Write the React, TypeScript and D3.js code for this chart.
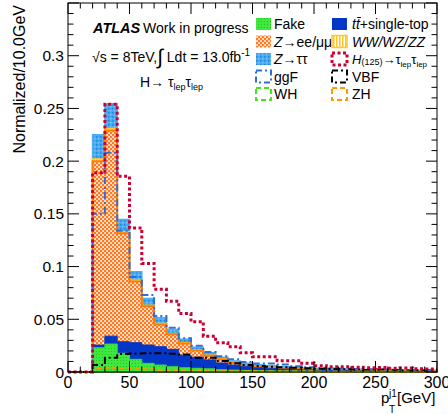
import React from 'react'
import * as d3 from 'd3'

// bin edges in GeV (10 GeV bins)
const edges = [0, 10, 20, 30, 40, 50, 60, 70, 80, 90, 100, 110, 120, 130, 140, 150, 160, 170, 180, 190, 200, 210, 220, 230, 240, 250, 260, 270, 280, 290, 300]

// backgrounds (normalized, per bin)
const fake = [0, 0, 0.023, 0.0265, 0.0177, 0.012, 0.0082, 0.0066, 0.005, 0.004, 0.0035, 0.003, 0.0022, 0.0018, 0.0015, 0.0012, 0.001, 0.0009, 0.0008, 0.0007, 0.0006, 0.0005, 0.0005, 0.0004, 0.0004, 0.0003, 0.0003, 0.0003, 0.0002, 0.0002]
const ttbar = [0, 0, 0.0025, 0.0075, 0.011, 0.0158, 0.0174, 0.0174, 0.0165, 0.012, 0.0105, 0.0085, 0.0063, 0.0048, 0.0035, 0.0028, 0.0022, 0.0018, 0.0015, 0.0012, 0.001, 0.0009, 0.0008, 0.0007, 0.0006, 0.0005, 0.0005, 0.0004, 0.0004, 0.0003]
const zll = [0, 0, 0.1745, 0.195, 0.1028, 0.058, 0.0368, 0.0211, 0.0143, 0.011, 0.0064, 0.0038, 0.0036, 0.002, 0.0008, 0.0009, 0.0008, 0.0007, 0.0006, 0.0006, 0.0005, 0.0005, 0.0004, 0.0004, 0.0003, 0.0003, 0.0003, 0.0003, 0.0002, 0.0002]
const diboson = [0, 0, 0.002, 0.002, 0.0015, 0.0012, 0.001, 0.0009, 0.0008, 0.0007, 0.0006, 0.0005, 0.0004, 0.0004, 0.0003, 0.0003, 0.0003, 0.0002, 0.0002, 0.0002, 0.0002, 0.0002, 0.0001, 0.0001, 0.0001, 0.0001, 0.0001, 0.0001, 0.0001, 0.0001]
const ztt = [0, 0, 0.023, 0.0234, 0.0116, 0.008, 0.0064, 0.0054, 0.0038, 0.0033, 0.0024, 0.0024, 0.0014, 0.0014, 0.0021, 0.0017, 0.0017, 0.0014, 0.0013, 0.0011, 0.001, 0.0009, 0.001, 0.001, 0.001, 0.001, 0.0008, 0.0008, 0.0008, 0.0008]

// signals
const hTot = [0, 0, 0.189, 0.254, 0.1856, 0.1367, 0.103, 0.0786, 0.0672, 0.0555, 0.0477, 0.034, 0.0278, 0.024, 0.0182, 0.0145, 0.0145, 0.0107, 0.0107, 0.0082, 0.006, 0.005, 0.005, 0.0045, 0.004, 0.0042, 0.0035, 0.0038, 0.003, 0.0028]
const ggF = [0, 0, 0.15, 0.208, 0.134, 0.09, 0.073, 0.053, 0.042, 0.032, 0.025, 0.019, 0.015, 0.012, 0.0095, 0.008, 0.008, 0.007, 0.0055, 0.0045, 0.0038, 0.0033, 0.003, 0.0028, 0.0026, 0.0024, 0.0022, 0.002, 0.0019, 0.0018]
const vbf = [0, 0, 0.0066, 0.0136, 0.017, 0.0175, 0.0177, 0.0177, 0.0172, 0.0165, 0.0136, 0.0136, 0.0104, 0.0082, 0.0066, 0.0057, 0.005, 0.0045, 0.004, 0.0035, 0.003, 0.0028, 0.0025, 0.0023, 0.002, 0.0024, 0.0016, 0.0015, 0.0014, 0.0013]
const wh = [0, 0, 0.003, 0.0035, 0.003, 0.0028, 0.0022, 0.0019, 0.0016, 0.0014, 0.0012, 0.001, 0.0009, 0.0008, 0.0007, 0.0006, 0.0005, 0.0005, 0.0004, 0.0004, 0.0003, 0.0003, 0.0003, 0.0002, 0.0002, 0.0002, 0.0002, 0.0002, 0.0001, 0.0001]
const zh = [0, 0, 0.0035, 0.004, 0.0035, 0.003, 0.0025, 0.002, 0.0018, 0.0015, 0.0012, 0.001, 0.0009, 0.0008, 0.0007, 0.0006, 0.0005, 0.0005, 0.0004, 0.0004, 0.0003, 0.0003, 0.0003, 0.0002, 0.0002, 0.0002, 0.0002, 0.0002, 0.0001, 0.0001]

const yTicks = [0, 0.05, 0.1, 0.15, 0.2, 0.25, 0.3]
const yTickLabels = ['0', '0.05', '0.1', '0.15', '0.2', '0.25', '0.3']
const xTicks = [0, 50, 100, 150, 200, 250, 300]
const xTickLabels = ['0', '50', '100', '150', '200', '250', '300']

const FONT = '"Liberation Sans", Arial, Helvetica, sans-serif'

export default function App() {
  const x = d3.scaleLinear().domain([0, 300]).range([68, 437])
  const y = d3.scaleLinear().domain([0, 0.35]).range([372, 3])

  const rows = fake.map((_, i) => ({ fake: fake[i], ttbar: ttbar[i], zll: zll[i], diboson: diboson[i], ztt: ztt[i] }))
  const stacked = d3.stack<any>().keys(['fake', 'ttbar', 'zll', 'diboson', 'ztt'])(rows)
  const cum = (key: string) => stacked.find(s => s.key === key)!.map(d => d[1])

  // last value repeated so the step reaches the right edge
  const ext = (v: number[]) => [...v, v[v.length - 1]]
  const area = d3.area<number>().curve(d3.curveStepAfter)
    .x((_, i) => x(edges[i])).y0(y(0)).y1(d => y(d))
  const line = d3.line<number>().curve(d3.curveStepAfter)
    .x((_, i) => x(edges[i])).y(d => y(d))

  // ROOT draws the biggest cumulative first, then the smaller ones on top
  const layers = [
    { key: 'ztt', fill: 'url(#pZtt)', stroke: '#4aaef0', sw: 1.5 },
    { key: 'diboson', fill: 'url(#pVV)', stroke: '#ffc926', sw: 1.5 },
    { key: 'zll', fill: 'url(#pZll)', stroke: '#ff7a00', sw: 2 },
    { key: 'ttbar', fill: '#0337c8', stroke: '#0337c8', sw: 1 },
    { key: 'fake', fill: 'url(#pFake)', stroke: '#36dd36', sw: 1 },
  ]

  const signals = [
    { v: ggF, stroke: '#2f6fd6', dash: '7 3 2 3', sw: 2 },
    { v: vbf, stroke: '#000', dash: '7 3 2 3', sw: 2 },
    { v: wh, stroke: '#3ee81a', dash: '5 3', sw: 2 },
    { v: zh, stroke: '#ff9a00', dash: '5 3', sw: 2 },
    { v: hTot, stroke: '#cc0033', dash: '3 2.5', sw: 3 },
  ]

  const yMinor = d3.range(0, 0.3501, 0.01)
  const xMinor = d3.range(0, 301, 10)

  // legend geometry
  const rowY = [24, 41.5, 59, 76.5, 94]
  const c1 = 256, c2 = 332
  const box = (bx: number, cy: number, props: any) =>
    <rect x={bx} y={cy - 6} width={15} height={12} {...props} />

  return (
    <svg width={448} height={414} style={{ position: 'absolute', left: 0, top: 0, background: '#fff' }} fontFamily={FONT}>
      <defs>
        <pattern id="pFake" patternUnits="userSpaceOnUse" width={3} height={3}>
          <rect width={3} height={3} fill="#3ee83e" />
          <rect width={1} height={1} fill="#22c822" />
        </pattern>
        <pattern id="pZll" patternUnits="userSpaceOnUse" width={4} height={4}>
          <rect width={4} height={4} fill="#ff7a22" />
          <rect x={0.2} y={0.2} width={1.7} height={1.7} fill="#fff" />
          <rect x={2.2} y={2.2} width={1.7} height={1.7} fill="#fff" />
        </pattern>
        <pattern id="pZtt" patternUnits="userSpaceOnUse" width={4} height={4}>
          <rect width={4} height={4} fill="#44aaf2" />
          <rect x={0} y={0} width={1.4} height={1.4} fill="#1e86dc" />
          <rect x={2} y={2} width={1.4} height={1.4} fill="#7cc6ff" />
        </pattern>
        <pattern id="pVV" patternUnits="userSpaceOnUse" width={3} height={3}>
          <rect width={3} height={3} fill="#fff" />
          <rect width={1.5} height={3} fill="#ffc41f" />
        </pattern>
      </defs>

      {/* stacked backgrounds */}
      {layers.map(l => (
        <path key={l.key} d={area(ext(cum(l.key)))!} fill={l.fill} stroke={l.stroke} strokeWidth={l.sw} />
      ))}

      {/* signal shapes */}
      {signals.map((s, i) => (
        <path key={i} d={line(ext(s.v))!} fill="none" stroke={s.stroke} strokeWidth={s.sw} strokeDasharray={s.dash} />
      ))}

      {/* frame */}
      <rect x={68} y={3} width={369} height={369} fill="none" stroke="#000" strokeWidth={1} />

      {/* y ticks (left + right, inward) */}
      {yMinor.map((t, i) => {
        const major = Math.round(t * 100) % 5 === 0
        const len = major ? 11 : 5.5
        return (
          <g key={i} stroke="#000" strokeWidth={1}>
            <line x1={68} x2={68 + len} y1={y(t)} y2={y(t)} />
            <line x1={437} x2={437 - len} y1={y(t)} y2={y(t)} />
          </g>
        )
      })}
      {/* x ticks (bottom + top, inward) */}
      {xMinor.map((t, i) => {
        const major = t % 50 === 0
        const len = major ? 11 : 5.5
        return (
          <g key={i} stroke="#000" strokeWidth={1}>
            <line x1={x(t)} x2={x(t)} y1={372} y2={372 - len} />
            <line x1={x(t)} x2={x(t)} y1={3} y2={3 + len} />
          </g>
        )
      })}

      {yTicks.map((t, i) => (
        <text key={i} x={64} y={y(t)} dy="0.36em" textAnchor="end" fontSize={15.5}>{yTickLabels[i]}</text>
      ))}
      {xTicks.map((t, i) => (
        <text key={i} x={x(t)} y={388} textAnchor="middle" fontSize={16}>{xTickLabels[i]}</text>
      ))}

      {/* axis titles */}
      <text transform="translate(25,5) rotate(-90)" textAnchor="end" fontSize={16}>Normalized/10.0GeV</text>
      <text x={381} y={403} fontSize={15}>p</text>
      <text x={389} y={397} fontSize={10}>j1</text>
      <text x={389} y={413} fontSize={10}>T</text>
      <text x={397} y={403} fontSize={15}>[GeV]</text>

      {/* labels */}
      <text x={93} y={33} fontSize={14.5} fontWeight="bold" fontStyle="italic">ATLAS</text>
      <text x={143} y={33} fontSize={14}>Work in progress</text>
      <text x={92} y={62} fontSize={14}>
        √s = 8TeV,<tspan fontSize={21} dy={2}>∫</tspan><tspan dy={-2}> Ldt = 13.0fb</tspan><tspan fontSize={10} dy={-6}>-1</tspan>
      </text>
      <text x={140} y={87} fontSize={14}>
        H→ τ<tspan fontSize={9} dy={3}>lep</tspan><tspan fontSize={14} dy={-3}>τ</tspan><tspan fontSize={9} dy={3}>lep</tspan>
      </text>

      {/* legend column 1 */}
      {box(c1, rowY[0], { fill: 'url(#pFake)' })}
      <text x={c1 + 18} y={rowY[0] + 5} fontSize={14}>Fake</text>
      {box(c1, rowY[1], { fill: 'url(#pZll)' })}
      <text x={c1 + 18} y={rowY[1] + 5} fontSize={14}><tspan fontStyle="italic">Z</tspan>→ee/μμ</text>
      {box(c1, rowY[2], { fill: 'url(#pZtt)' })}
      <text x={c1 + 18} y={rowY[2] + 5} fontSize={14}><tspan fontStyle="italic">Z</tspan>→ττ</text>
      {box(c1, rowY[3], { fill: 'none', stroke: '#2f6fd6', strokeWidth: 2, strokeDasharray: '6 3 2 3' })}
      <text x={c1 + 18} y={rowY[3] + 5} fontSize={14}>ggF</text>
      {box(c1, rowY[4], { fill: 'none', stroke: '#3ee81a', strokeWidth: 2, strokeDasharray: '5 3' })}
      <text x={c1 + 18} y={rowY[4] + 5} fontSize={14}>WH</text>

      {/* legend column 2 */}
      {box(c2, rowY[0], { fill: '#0337c8' })}
      <text x={c2 + 20} y={rowY[0] + 5} fontSize={14}><tspan fontStyle="italic">tt̄</tspan>+single-top</text>
      {box(c2, rowY[1], { fill: 'url(#pVV)', stroke: '#ffc926', strokeWidth: 1.5 })}
      <text x={c2 + 20} y={rowY[1] + 5} fontSize={14} fontStyle="italic">WW/WZ/ZZ</text>
      {box(c2, rowY[2], { fill: 'none', stroke: '#cc0033', strokeWidth: 3, strokeDasharray: '3 2.5' })}
      <text x={c2 + 20} y={rowY[2] + 5} fontSize={13}>
        <tspan fontStyle="italic">H</tspan><tspan fontSize={9} dy={1}>(125)</tspan><tspan dy={-1}>→τ</tspan><tspan fontSize={8} dy={3}>lep</tspan><tspan dy={-3}>τ</tspan><tspan fontSize={8} dy={3}>lep</tspan>
      </text>
      {box(c2, rowY[3], { fill: 'none', stroke: '#000', strokeWidth: 2, strokeDasharray: '6 3 2 3' })}
      <text x={c2 + 20} y={rowY[3] + 5} fontSize={14}>VBF</text>
      {box(c2, rowY[4], { fill: 'none', stroke: '#ff9a00', strokeWidth: 2, strokeDasharray: '5 3' })}
      <text x={c2 + 20} y={rowY[4] + 5} fontSize={14}>ZH</text>
    </svg>
  )
}
